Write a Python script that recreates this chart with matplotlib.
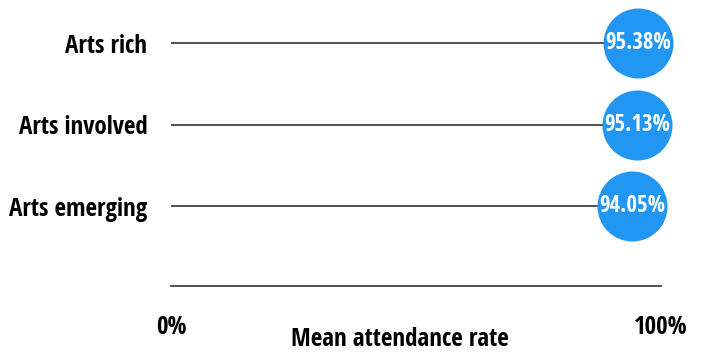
import matplotlib
matplotlib.use("Agg")
import matplotlib.pyplot as plt
from matplotlib import font_manager

categories = ["Arts rich", "Arts involved", "Arts emerging"]
values = [95.38, 95.13, 94.05]
tick_labels = ["0%", "100%"]


def pick_font():
    # look for a condensed bold face, Open Sans first
    best, best_score = None, -1
    for f in font_manager.fontManager.ttflist:
        if 'CJK' in f.name:
            continue
        cond = 'condensed' in str(f.stretch).lower() or 'condensed' in f.name.lower() \
            or 'narrow' in f.name.lower() or 'condensed' in f.fname.lower()
        if not cond or 'extra' in str(f.stretch).lower() or 'ultra' in str(f.stretch).lower():
            continue
        w = f.weight if isinstance(f.weight, int) else 700 if 'bold' in str(f.weight) else 400
        score = 0
        if w == 700:
            score += 10
        elif w in (600, 800):
            score += 5
        if 'Open Sans' in f.name:
            score += 4
        elif 'Roboto' in f.name:
            score += 3
        elif 'Noto Sans' in f.name:
            score += 2
        elif 'DejaVu' in f.name:
            score += 1
        if 'italic' in f.style or 'oblique' in f.style:
            score -= 20
        if score > best_score:
            best, best_score = f, score
    if best is None:
        return font_manager.FontProperties(family='DejaVu Sans', weight='bold')
    return font_manager.FontProperties(fname=best.fname)


fp = pick_font()


def font(size):
    p = fp.copy()
    p.set_size(size)
    return p


blue = '#2196f3'
dark = '#333333'

fig = plt.figure(figsize=(7.04, 3.54), dpi=100)
ax = fig.add_axes([171 / 704, (354 - 286) / 354, 490 / 704, 286 / 354])

y = list(range(len(categories)))
ax.hlines(y, 0, values, color=dark, linewidth=1.2, zorder=1)
ax.scatter(values, y, s=(70 * 0.72) ** 2, color=blue, zorder=2, linewidths=0,
           clip_on=False)
for v, yy in zip(values, y):
    ax.text(v, yy, f"{v:.2f}%", color='white', fontproperties=font(16.5),
            ha='center', va='center', zorder=3)

ax.set_xlim(0, 100)
ax.set_ylim(2.98, -0.53)
ax.set_yticks(y)
ax.set_yticklabels(categories, fontproperties=font(18))
ax.set_xticks([0, 100])
ax.set_xticklabels(tick_labels, fontproperties=font(18))
ax.tick_params(axis='y', length=0, pad=17)
ax.tick_params(axis='x', length=0, pad=21)

for side in ['top', 'right', 'left']:
    ax.spines[side].set_visible(False)
ax.spines['bottom'].set_color(dark)
ax.spines['bottom'].set_linewidth(1.2)

fig.text(400 / 704, 1 - 340 / 354, "Mean attendance rate", fontproperties=font(18),
         ha='center', va='center', color='black')

fig.savefig("out.png", dpi=100)
